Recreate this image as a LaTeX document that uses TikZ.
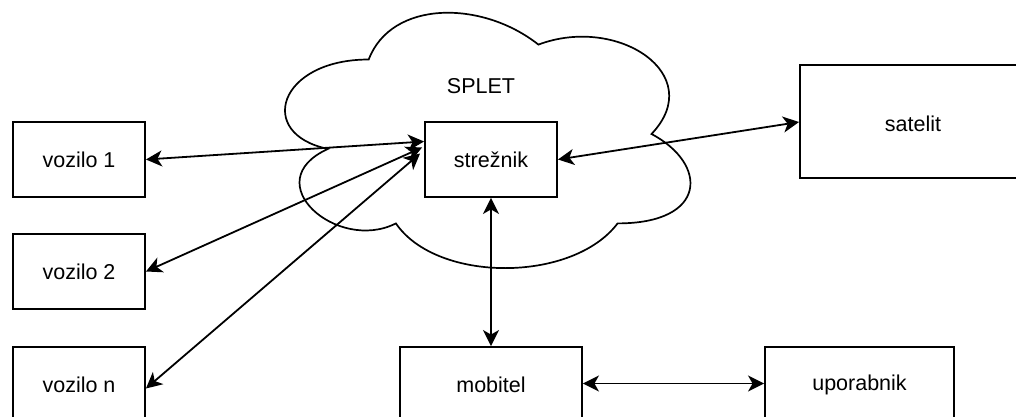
\documentclass[tikz,border=0pt]{standalone}
\usepackage{fontspec}
\setmainfont{Liberation Sans}
\usetikzlibrary{arrows.meta,calc}
\begin{document}
\begin{tikzpicture}[x=1pt,y=-1pt,
  box/.style={draw, line width=1.9pt, fill=white, minimum width=132pt, minimum height=75pt, inner sep=0pt},
  lbl/.style={font=\fontsize{21.5}{26}\selectfont},
  link/.style={line width=1.8pt, {Stealth[length=16pt,width=16pt,inset=4.5pt]}-{Stealth[length=16pt,width=16pt,inset=4.5pt]}}]
\useasboundingbox (0,0) rectangle (1016,417);
\clip (0,0) rectangle (1016,417);
% cloud
\draw[line width=1.7pt, fill=white] (368.7,59.5) .. controls (278.2,59.5) and (255.6,134) .. (328.0,148.9)
  .. controls (255.6,181.7) and (337.1,253.2) .. (395.9,223.4)
  .. controls (436.6,283) and (572.4,283) .. (617.6,223.4)
  .. controls (708.1,223.4) and (708.1,163.8) .. (651.5,134)
  .. controls (708.1,74.4) and (617.6,14.8) .. (538.4,44.6)
  .. controls (481.9,-0.1) and (391.4,-0.1) .. (368.7,59.5) -- cycle;
\node[lbl] (splet) at (481,86) {SPLET};
% boxes
\node[box, lbl] (v1) at (79,159.5) {vozilo 1};
\node[box, lbl] (v2) at (79,271.5) {vozilo 2};
\node[box, lbl] (vn) at (79,384.5) {vozilo n};
\node[box, lbl] (srv) at (491,159.5) {strežnik};
\node[box, lbl, minimum width=230pt, minimum height=113pt] (sat) at (915,121.5) {};
\node[lbl] (satl) at (913,124) {satelit};
\node[box, lbl, minimum width=182pt] (mob) at (491,384.5) {mobitel};
\node[box, lbl, minimum width=189pt] (upo) at (859.5,384.5) {uporabnik};
% connectors
\draw[link] (v1.east) -- ($(srv.west)+(0,-18)$);
\draw[link] (v2.east) -- ($(srv.west)+(-2,-12)$);
\draw[link] ($(vn.east)+(0,4)$) -- ($(srv.west)+(-4,-6)$);
\draw[link] (srv.east) -- ($(sat.west)+(0,0.5)$);
\draw[link] (srv.south) -- (mob.north);
\draw[link] ($(mob.east)+(0,-1)$) -- ($(upo.west)+(0,-1)$);
\end{tikzpicture}
\end{document}
